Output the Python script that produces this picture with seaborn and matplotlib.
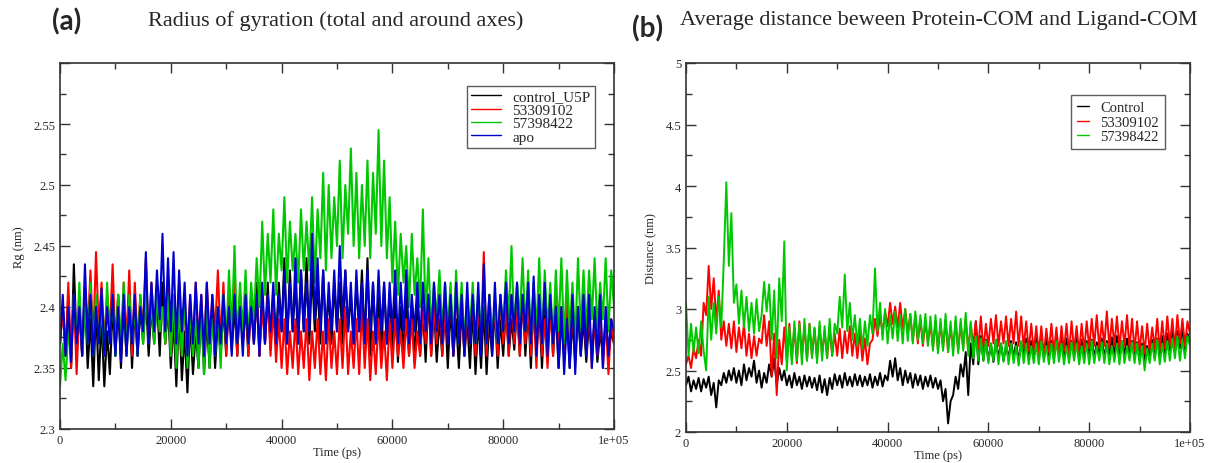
import numpy as np
import pandas as pd
import matplotlib
matplotlib.use("Agg")
import matplotlib.pyplot as plt
from matplotlib.ticker import MultipleLocator, FixedLocator
import seaborn as sns

time_ps = list(range(0, 100001, 500))

rg_control_U5P = [
    2.37,2.40,2.36,2.41,2.35,2.435,2.37,2.40,2.36,2.41,
    2.35,2.39,2.335,2.40,2.34,2.39,2.335,2.38,2.345,2.40,
    2.36,2.41,2.35,2.40,2.36,2.41,2.35,2.40,2.36,2.40,
    2.37,2.41,2.36,2.40,2.37,2.41,2.36,2.42,2.37,2.40,
    2.35,2.39,2.335,2.40,2.34,2.38,2.33,2.39,2.345,2.38,
    2.35,2.40,2.345,2.39,2.35,2.40,2.35,2.39,2.36,2.40,
    2.36,2.41,2.365,2.40,2.36,2.41,2.37,2.40,2.36,2.41,
    2.37,2.42,2.36,2.41,2.37,2.42,2.365,2.41,2.37,2.42,
    2.38,2.44,2.37,2.43,2.38,2.42,2.37,2.43,2.38,2.44,
    2.37,2.43,2.38,2.42,2.37,2.43,2.38,2.41,2.37,2.42,
    2.38,2.42,2.37,2.43,2.38,2.41,2.37,2.42,2.38,2.43,
    2.37,2.44,2.36,2.42,2.37,2.41,2.36,2.42,2.37,2.41,
    2.36,2.41,2.355,2.40,2.36,2.41,2.36,2.40,2.355,2.41,
    2.36,2.40,2.355,2.41,2.36,2.40,2.355,2.39,2.36,2.40,
    2.35,2.40,2.36,2.39,2.35,2.40,2.36,2.39,2.35,2.40,
    2.345,2.39,2.35,2.40,2.345,2.39,2.36,2.40,2.35,2.39,
    2.36,2.40,2.36,2.39,2.365,2.40,2.36,2.41,2.36,2.40,
    2.35,2.41,2.36,2.40,2.35,2.40,2.355,2.41,2.36,2.40,
    2.35,2.39,2.36,2.40,2.35,2.39,2.355,2.40,2.36,2.39,
    2.355,2.39,2.36,2.39,2.355,2.38,2.36,2.39,2.36,2.38,
    2.37]

rg_53309102 = [
    2.37,2.40,2.36,2.42,2.35,2.41,2.345,2.40,2.36,2.42,
    2.38,2.43,2.37,2.445,2.38,2.42,2.37,2.41,2.38,2.435,
    2.37,2.41,2.36,2.42,2.37,2.43,2.36,2.42,2.37,2.41,
    2.38,2.44,2.37,2.42,2.38,2.41,2.38,2.40,2.37,2.42,
    2.36,2.41,2.37,2.42,2.36,2.40,2.37,2.41,2.36,2.42,
    2.37,2.41,2.36,2.42,2.37,2.41,2.38,2.43,2.37,2.42,
    2.36,2.41,2.37,2.42,2.36,2.41,2.37,2.42,2.36,2.41,
    2.37,2.41,2.36,2.40,2.37,2.41,2.36,2.40,2.355,2.39,
    2.35,2.39,2.345,2.38,2.35,2.39,2.345,2.38,2.35,2.39,
    2.34,2.38,2.35,2.39,2.345,2.38,2.34,2.39,2.35,2.38,
    2.345,2.39,2.35,2.40,2.345,2.38,2.35,2.39,2.345,2.40,
    2.35,2.39,2.34,2.38,2.345,2.39,2.35,2.38,2.34,2.39,
    2.35,2.39,2.36,2.38,2.35,2.39,2.36,2.39,2.35,2.38,
    2.36,2.40,2.37,2.41,2.36,2.40,2.37,2.41,2.36,2.40,
    2.37,2.41,2.36,2.42,2.37,2.41,2.36,2.40,2.37,2.41,
    2.36,2.40,2.37,2.445,2.36,2.41,2.37,2.40,2.36,2.41,
    2.37,2.40,2.36,2.41,2.37,2.40,2.36,2.41,2.37,2.40,
    2.36,2.40,2.35,2.41,2.36,2.39,2.35,2.40,2.36,2.41,
    2.37,2.40,2.36,2.41,2.37,2.39,2.36,2.40,2.37,2.41,
    2.36,2.40,2.35,2.39,2.36,2.40,2.35,2.39,2.345,2.39,
    2.37]

rg_57398422 = [
    2.335,2.37,2.34,2.38,2.36,2.41,2.37,2.42,2.36,2.40,
    2.37,2.42,2.36,2.41,2.37,2.40,2.36,2.42,2.37,2.41,
    2.36,2.41,2.37,2.42,2.36,2.41,2.37,2.40,2.36,2.41,
    2.37,2.41,2.38,2.40,2.37,2.41,2.38,2.40,2.37,2.41,
    2.36,2.41,2.35,2.40,2.36,2.41,2.35,2.40,2.36,2.39,
    2.35,2.40,2.345,2.41,2.35,2.39,2.36,2.40,2.35,2.41,
    2.37,2.43,2.38,2.45,2.37,2.42,2.38,2.43,2.37,2.42,
    2.39,2.44,2.40,2.47,2.41,2.46,2.42,2.48,2.41,2.46,
    2.43,2.49,2.42,2.47,2.43,2.46,2.42,2.48,2.43,2.47,
    2.43,2.49,2.42,2.48,2.44,2.51,2.43,2.50,2.44,2.49,
    2.45,2.52,2.44,2.50,2.46,2.53,2.45,2.51,2.44,2.50,
    2.45,2.52,2.44,2.51,2.46,2.545,2.45,2.52,2.44,2.49,
    2.42,2.47,2.41,2.46,2.42,2.45,2.40,2.46,2.41,2.44,
    2.40,2.48,2.39,2.44,2.38,2.42,2.39,2.43,2.38,2.42,
    2.38,2.42,2.37,2.43,2.38,2.42,2.37,2.41,2.38,2.42,
    2.37,2.41,2.38,2.42,2.37,2.41,2.38,2.40,2.37,2.41,
    2.38,2.43,2.39,2.45,2.38,2.42,2.39,2.44,2.38,2.43,
    2.37,2.42,2.38,2.44,2.37,2.43,2.38,2.42,2.37,2.43,
    2.38,2.44,2.37,2.43,2.38,2.42,2.37,2.44,2.38,2.43,
    2.38,2.43,2.39,2.44,2.38,2.42,2.39,2.44,2.38,2.43,
    2.40]

rg_apo = [
    2.37,2.41,2.36,2.40,2.355,2.41,2.37,2.40,2.36,2.435,
    2.37,2.41,2.36,2.40,2.37,2.415,2.36,2.40,2.37,2.41,
    2.36,2.40,2.355,2.41,2.36,2.40,2.37,2.41,2.36,2.40,
    2.38,2.445,2.37,2.42,2.38,2.43,2.39,2.46,2.38,2.44,
    2.38,2.445,2.37,2.43,2.38,2.42,2.36,2.41,2.37,2.42,
    2.37,2.41,2.36,2.42,2.37,2.41,2.36,2.40,2.37,2.41,
    2.37,2.40,2.36,2.41,2.37,2.40,2.36,2.41,2.37,2.40,
    2.37,2.41,2.36,2.42,2.37,2.41,2.38,2.42,2.37,2.41,
    2.38,2.43,2.37,2.42,2.38,2.44,2.37,2.43,2.38,2.42,
    2.38,2.46,2.39,2.44,2.38,2.43,2.37,2.42,2.38,2.43,
    2.38,2.45,2.39,2.43,2.38,2.42,2.37,2.43,2.38,2.42,
    2.37,2.43,2.38,2.42,2.37,2.43,2.38,2.42,2.37,2.42,
    2.38,2.43,2.37,2.42,2.38,2.43,2.37,2.41,2.38,2.42,
    2.37,2.42,2.38,2.41,2.37,2.42,2.38,2.41,2.37,2.42,
    2.37,2.41,2.36,2.42,2.37,2.41,2.36,2.42,2.37,2.41,
    2.37,2.42,2.36,2.435,2.37,2.41,2.36,2.42,2.37,2.41,
    2.38,2.42,2.37,2.41,2.38,2.42,2.37,2.41,2.38,2.42,
    2.37,2.425,2.36,2.41,2.37,2.42,2.36,2.41,2.37,2.40,
    2.35,2.40,2.345,2.39,2.35,2.41,2.345,2.40,2.36,2.41,
    2.36,2.41,2.35,2.40,2.36,2.41,2.35,2.40,2.36,2.39,
    2.38]

dist_control = [
    2.38,2.45,2.33,2.42,2.35,2.44,2.33,2.43,2.36,2.45,
    2.30,2.40,2.20,2.42,2.38,2.48,2.40,2.50,2.42,2.52,
    2.40,2.50,2.38,2.55,2.42,2.52,2.45,2.58,2.40,2.50,
    2.36,2.48,2.40,2.55,2.45,2.60,2.38,2.52,2.42,2.50,
    2.38,2.46,2.36,2.48,2.38,2.45,2.35,2.46,2.37,2.45,
    2.36,2.44,2.34,2.46,2.32,2.43,2.30,2.44,2.35,2.47,
    2.38,2.46,2.36,2.48,2.38,2.45,2.37,2.47,2.38,2.46,
    2.37,2.45,2.38,2.47,2.36,2.45,2.38,2.48,2.37,2.46,
    2.42,2.58,2.45,2.60,2.42,2.52,2.38,2.50,2.40,2.48,
    2.36,2.47,2.38,2.46,2.35,2.45,2.37,2.46,2.36,2.44,
    2.35,2.42,2.25,2.35,2.07,2.25,2.30,2.45,2.35,2.55,
    2.45,2.65,2.30,2.72,2.55,2.90,2.55,2.78,2.58,2.75,
    2.58,2.72,2.57,2.75,2.60,2.72,2.58,2.70,2.60,2.74,
    2.60,2.73,2.58,2.72,2.62,2.76,2.60,2.74,2.62,2.78,
    2.60,2.75,2.62,2.77,2.60,2.74,2.62,2.76,2.63,2.78,
    2.62,2.76,2.60,2.74,2.62,2.78,2.60,2.75,2.62,2.74,
    2.62,2.75,2.60,2.73,2.62,2.76,2.60,2.74,2.63,2.77,
    2.62,2.78,2.60,2.74,2.63,2.76,2.61,2.74,2.60,2.73,
    2.58,2.72,2.57,2.70,2.62,2.75,2.60,2.76,2.62,2.78,
    2.64,2.80,2.66,2.85,2.65,2.82,2.68,2.85,2.66,2.80,
    2.72]

dist_53309102 = [
    2.55,2.62,2.52,2.68,2.60,2.75,2.62,3.05,2.95,3.35,
    3.00,3.25,2.90,3.15,2.75,2.90,2.70,2.88,2.68,2.90,
    2.65,2.85,2.68,2.88,2.62,2.80,2.60,2.78,2.62,2.76,
    2.72,2.95,2.70,2.90,2.45,2.80,2.30,2.75,2.55,2.85,
    2.58,2.88,2.60,2.85,2.56,2.90,2.62,2.86,2.58,2.88,
    2.62,2.84,2.60,2.86,2.64,2.82,2.60,2.85,2.62,2.80,
    2.62,2.84,2.60,2.82,2.64,2.86,2.62,2.80,2.60,2.82,
    2.58,2.76,2.55,2.72,2.75,2.92,2.78,2.95,2.80,2.98,
    2.86,3.05,2.88,3.02,2.85,3.05,2.84,3.00,2.80,2.96,
    2.74,2.95,2.72,2.92,2.70,2.90,2.72,2.88,2.68,2.90,
    2.66,2.88,2.68,2.90,2.65,2.86,2.67,2.90,2.66,2.88,
    2.68,2.92,2.66,2.88,2.70,2.90,2.68,2.94,2.66,2.88,
    2.70,2.92,2.72,2.95,2.70,2.90,2.72,2.94,2.70,2.92,
    2.72,2.98,2.70,2.94,2.68,2.90,2.66,2.88,2.65,2.86,
    2.64,2.86,2.62,2.84,2.65,2.88,2.64,2.85,2.62,2.86,
    2.66,2.88,2.64,2.90,2.66,2.86,2.64,2.88,2.66,2.90,
    2.68,2.92,2.70,2.95,2.68,2.90,2.70,2.98,2.68,2.92,
    2.70,2.94,2.68,2.90,2.70,2.95,2.68,2.92,2.66,2.90,
    2.66,2.86,2.64,2.88,2.66,2.85,2.68,2.92,2.66,2.90,
    2.68,2.94,2.70,2.92,2.68,2.95,2.72,2.92,2.70,2.90,
    2.80]

dist_57398422 = [
    3.05,2.62,2.88,2.65,2.85,2.64,2.90,2.66,2.50,3.10,
    2.75,3.05,2.80,3.10,2.85,3.40,4.03,3.35,3.78,3.05,
    3.20,2.88,3.15,2.85,3.10,2.82,3.05,2.80,3.08,2.82,
    2.95,3.22,2.98,3.20,2.75,3.15,2.60,3.25,2.90,3.55,
    2.50,2.85,2.55,2.90,2.58,2.88,2.55,2.92,2.58,2.88,
    2.60,2.85,2.56,2.90,2.58,2.86,2.60,2.92,2.62,2.88,
    2.80,3.10,2.85,3.28,2.82,3.05,2.75,2.95,2.70,2.92,
    2.68,2.90,2.70,2.95,2.80,3.33,2.82,3.05,2.75,3.00,
    2.72,2.95,2.76,2.98,2.74,2.95,2.72,3.00,2.74,2.96,
    2.72,2.98,2.75,2.95,2.72,2.96,2.70,2.94,2.66,2.95,
    2.64,2.92,2.66,2.96,2.65,2.90,2.62,2.94,2.64,2.92,
    2.66,2.97,2.62,2.90,2.60,2.78,2.58,2.76,2.58,2.74,
    2.56,2.72,2.58,2.75,2.55,2.72,2.57,2.74,2.55,2.72,
    2.56,2.70,2.54,2.74,2.56,2.72,2.55,2.70,2.56,2.72,
    2.55,2.74,2.57,2.70,2.55,2.72,2.56,2.74,2.57,2.72,
    2.55,2.70,2.56,2.73,2.58,2.72,2.55,2.70,2.56,2.72,
    2.55,2.74,2.56,2.70,2.58,2.73,2.56,2.72,2.55,2.70,
    2.57,2.72,2.55,2.74,2.56,2.70,2.58,2.73,2.56,2.72,
    2.55,2.70,2.50,2.68,2.56,2.72,2.58,2.75,2.55,2.72,
    2.57,2.74,2.58,2.76,2.60,2.78,2.58,2.75,2.60,2.78,
    2.70]

rg_labels = ["control_U5P", "53309102", "57398422", "apo"]
dist_labels = ["Control", "53309102", "57398422"]
xtick_values = [0, 20000, 40000, 60000, 80000, 100000]
xtick_labels = ["0", "20000", "40000", "60000", "80000", "1e+05"]

# ---------------- styling ----------------
sns.set_style("ticks")
plt.rcParams["font.family"] = ["Liberation Serif", "DejaVu Serif"]

col_black = "#000000"
col_red = "#ff0000"
col_green = "#00c800"
col_blue = "#0000cc"

df_a = pd.concat([
    pd.DataFrame({"Time": time_ps, "val": v, "series": n})
    for v, n in zip([rg_control_U5P, rg_53309102, rg_57398422, rg_apo], rg_labels)
])
df_b = pd.concat([
    pd.DataFrame({"Time": time_ps, "val": v, "series": n})
    for v, n in zip([dist_control, dist_53309102, dist_57398422], dist_labels)
])

fig = plt.figure(figsize=(12.08, 4.64), dpi=100)
ax_a = fig.add_axes([60/1208, 1-430/464, 554/1208, 366/464])
ax_b = fig.add_axes([686/1208, 1-433/464, 504/1208, 369/464])

sns.lineplot(data=df_a, x="Time", y="val", hue="series", hue_order=rg_labels,
             palette=[col_black, col_red, col_green, col_blue],
             estimator=None, sort=False, lw=1.5, ax=ax_a)
sns.lineplot(data=df_b, x="Time", y="val", hue="series", hue_order=dist_labels,
             palette=[col_black, col_red, col_green],
             estimator=None, sort=False, lw=1.4, ax=ax_b)

def style_axes(ax):
    ax.set_xlim(0, 100000)
    ax.xaxis.set_major_locator(FixedLocator(xtick_values))
    ax.set_xticklabels(xtick_labels)
    ax.xaxis.set_minor_locator(MultipleLocator(10000))
    ax.tick_params(which="both", direction="in", top=True, right=True,
                   labelsize=9, color="#333333", width=1.0)
    ax.tick_params(which="major", length=7)
    ax.tick_params(which="minor", length=4)
    for s in ax.spines.values():
        s.set_linewidth(1.2)
        s.set_color("#333333")
        s.set_visible(True)
    ax.set_xlabel("Time (ps)", fontsize=9, labelpad=0)

style_axes(ax_a)
ax_a.set_ylim(2.3, 2.6)
ax_a.yaxis.set_major_locator(FixedLocator([2.3, 2.35, 2.4, 2.45, 2.5, 2.55, 2.6]))
ax_a.set_yticklabels(["2.3", "2.35", "2.4", "2.45", "2.5", "2.55", ""])
ax_a.yaxis.set_minor_locator(MultipleLocator(0.025))
ax_a.set_ylabel("Rg (nm)", fontsize=9, labelpad=6)

style_axes(ax_b)
ax_b.set_ylim(2, 5)
ax_b.yaxis.set_minor_locator(MultipleLocator(0.25))
ax_b.set_yticks([2, 2.5, 3, 3.5, 4, 4.5, 5])
ax_b.set_yticklabels(["2", "2.5", "3", "3.5", "4", "4.5", "5"])
ax_b.set_ylabel("Distance (nm)", fontsize=9, labelpad=6)

# legends
h, l = ax_a.get_legend_handles_labels()
for hh in h:
    hh.set_linewidth(1.0)
leg_a = ax_a.legend(h, l, loc="upper right", bbox_to_anchor=(0.965, 0.937),
                    fontsize=11, frameon=True, fancybox=False, handlelength=2.0,
                    handletextpad=0.75, borderpad=0.25, labelspacing=-0.02,
                    borderaxespad=0)
leg_a.get_frame().set_edgecolor("#333333")
leg_a.get_frame().set_linewidth(1.0)

h, l = ax_b.get_legend_handles_labels()
for hh in h:
    hh.set_linewidth(1.0)
leg_b = ax_b.legend(h, l, loc="upper right", bbox_to_anchor=(0.95, 0.913),
                    fontsize=10.5, frameon=True, fancybox=False, handlelength=0.8,
                    handletextpad=0.8, borderpad=0.4, labelspacing=0.1,
                    borderaxespad=0)
leg_b.get_frame().set_edgecolor("#333333")
leg_b.get_frame().set_linewidth(1.0)

# titles and panel letters
fig.text(336/1208, 1-21/464, "Radius of gyration (total and around axes)",
         ha="center", va="center", fontsize=16)
fig.text(939/1208, 1-21/464, "Average distance beween Protein-COM and Ligand-COM",
         ha="center", va="center", fontsize=16)
fig.text(67/1208, 1-22/464, "(a)", ha="center", va="center", fontsize=20,
         fontweight="bold", family=["Lato", "DejaVu Sans"])
fig.text(648/1208, 1-29/464, "(b)", ha="center", va="center", fontsize=20,
         fontweight="bold", family=["Lato", "DejaVu Sans"])

fig.savefig("out.png", dpi=100)
